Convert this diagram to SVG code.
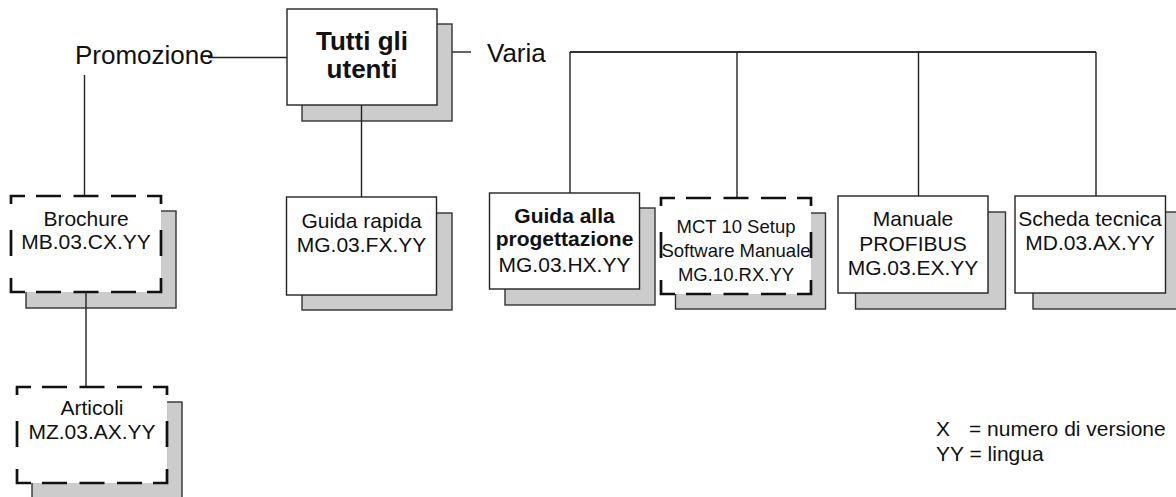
<svg xmlns="http://www.w3.org/2000/svg" xmlns:xlink="http://www.w3.org/1999/xlink" width="1176" height="497" viewBox="0 0 1176 497">
  <style>
    .shadow { fill: #cccccc; stroke: #333333; stroke-width: 1.4; }
    .box { fill: #ffffff; stroke: #222222; stroke-width: 1.4; }
    .dbox { fill: #ffffff; stroke: none; }
    .dash { fill: none; stroke: #111111; stroke-width: 2.7; stroke-linejoin: miter; }
    .conn { fill: none; stroke: #222222; stroke-width: 1.4; }
    .bus { fill: none; stroke: #333333; stroke-width: 2; }
    .lbl { font-family: "Liberation Sans", Arial, Helvetica, sans-serif; font-size: 26px; fill: #111111; }
    .t { font-family: "Liberation Sans", Arial, Helvetica, sans-serif; font-size: 21px; fill: #111111; text-anchor: middle; }
    .ts { font-size: 18.5px; }
    .b { font-weight: bold; }
    .big { font-size: 26px; }
    .leg { font-family: "Liberation Sans", Arial, Helvetica, sans-serif; font-size: 21px; fill: #111111; }
  </style>
  <defs>
    <path id="dash-outline" class="dash" d="M0,8 V0 H14 M25,0 H50 M62.5,0 H87.5 M100,0 H125 M136,0 H150 V8 M150,34 V60 M150,82 V96 H136 M125,96 H100 M87.5,96 H62.5 M50,96 H25 M14,96 H0 V82 M0,34 V60"/>
  </defs>

  <g id="connectors">
    <path class="conn" d="M208,57.5 H287"/>
    <path class="conn" d="M84.5,75 V196"/>
    <path class="conn" d="M86,292 V387"/>
    <path class="conn" d="M361.5,105 V197"/>
    <path class="conn" d="M444,52 H471"/>
    <path class="bus" d="M570,52 H1096"/>
    <path class="conn" d="M570,52 V193"/>
    <path class="conn" d="M737,52 V198"/>
    <path class="conn" d="M918.5,52 V196"/>
    <path class="conn" d="M1096,52 V196"/>
  </g>

  <g id="label-promozione">
    <text class="lbl" x="75" y="64">Promozione</text>
  </g>
  <g id="label-varia">
    <text class="lbl" x="487" y="62">Varia</text>
  </g>

  <g id="node-tutti">
    <rect class="shadow" x="302" y="24" width="150" height="97"/>
    <rect class="box" x="287" y="9" width="150" height="96"/>
    <path class="conn" d="M361.5,105 V121"/>
    <text class="t b big" x="362" y="50">Tutti gli</text>
    <text class="t b big" x="362" y="78">utenti</text>
  </g>

  <g id="node-brochure">
    <rect class="shadow" x="26" y="211" width="150" height="97"/>
    <rect class="dbox" x="11" y="196" width="150" height="96"/>
    <use xlink:href="#dash-outline" x="11" y="196"/>
    <path class="conn" d="M86,292 V308"/>
    <text class="t" x="86" y="226">Brochure</text>
    <text class="t" x="86" y="249">MB.03.CX.YY</text>
  </g>

  <g id="node-articoli">
    <rect class="shadow" x="32" y="402" width="150" height="97"/>
    <rect class="dbox" x="17" y="387" width="150" height="96"/>
    <use xlink:href="#dash-outline" x="17" y="387"/>
    <text class="t" x="92" y="415">Articoli</text>
    <text class="t" x="92" y="439">MZ.03.AX.YY</text>
  </g>

  <g id="node-guida-rapida">
    <rect class="shadow" x="302" y="213" width="150" height="97"/>
    <rect class="box" x="286.5" y="197" width="150" height="98"/>
    <text class="t" x="361.5" y="228">Guida rapida</text>
    <text class="t" x="361.5" y="252">MG.03.FX.YY</text>
  </g>

  <g id="node-guida-progettazione">
    <rect class="shadow" x="505" y="208" width="150" height="97"/>
    <rect class="box" x="489.5" y="193" width="150" height="96"/>
    <text class="t b" x="564.5" y="223">Guida alla</text>
    <text class="t b" x="564.5" y="246">progettazione</text>
    <text class="t" x="564.5" y="272">MG.03.HX.YY</text>
  </g>

  <g id="node-mct">
    <rect class="shadow" x="675.5" y="213" width="150" height="96"/>
    <rect class="dbox" x="661" y="198" width="150" height="96"/>
    <use xlink:href="#dash-outline" x="661" y="198"/>
    <text class="t ts" x="736" y="233">MCT 10 Setup</text>
    <text class="t ts" x="736" y="257">Software Manuale</text>
    <text class="t ts" x="736" y="281">MG.10.RX.YY</text>
  </g>

  <g id="node-profibus">
    <rect class="shadow" x="855.5" y="212" width="150" height="97"/>
    <rect class="box" x="838" y="196" width="150" height="97"/>
    <text class="t" x="913" y="226">Manuale</text>
    <text class="t" x="913" y="251">PROFIBUS</text>
    <text class="t" x="913" y="275">MG.03.EX.YY</text>
  </g>

  <g id="node-scheda">
    <rect class="shadow" x="1033" y="212" width="150" height="97"/>
    <rect class="box" x="1015" y="196" width="150.5" height="97"/>
    <text class="t" x="1090" y="226">Scheda tecnica</text>
    <text class="t" x="1090" y="250">MD.03.AX.YY</text>
  </g>

  <g id="legend">
    <text class="leg" x="936" y="436">X<tspan x="969">= numero di versione</tspan></text>
    <text class="leg" x="936" y="461">YY = lingua</text>
  </g>
</svg>
